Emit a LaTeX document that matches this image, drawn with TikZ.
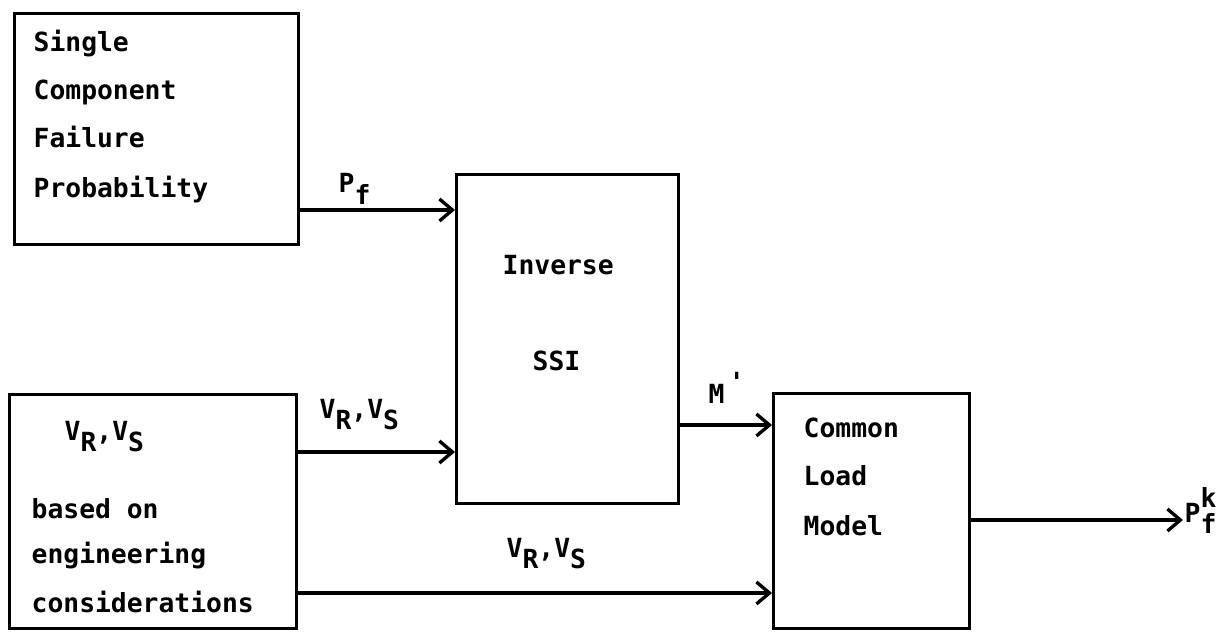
\documentclass[tikz,border=0pt]{standalone}
\usepackage{fontspec}
\setmainfont{DejaVu Sans Mono}
\usetikzlibrary{arrows.meta}
\newcommand{\lowr}[1]{\raisebox{-0.45em}{#1}}
\newcommand{\highr}[1]{\raisebox{0.55em}{#1}}

\begin{document}
\begin{tikzpicture}[x=0.02cm, y=-0.02cm, line width=1.9pt,
  box/.style={draw, rectangle, inner sep=0pt, anchor=north west},
  txt/.style={anchor=base west, inner sep=0pt, font=\fontsize{15}{18}\selectfont\bfseries},
  arr/.style={-{Straight Barb[length=2.6mm, width=4.4mm]}}]
\useasboundingbox (0,0) rectangle (1228,635);

\node[box, minimum width=5.68cm, minimum height=4.62cm] at (13,12) (single) {};
\node[box, minimum width=4.44cm, minimum height=6.58cm] at (455,173) (ssi) {};
\node[box, minimum width=5.74cm, minimum height=4.68cm] at (8,393) (eng) {};
\node[box, minimum width=3.92cm, minimum height=4.70cm] at (772,392) (load) {};

\node[txt] at (32,52) (s1) {Single};
\node[txt] at (32,100) (s2) {Component};
\node[txt] at (32,148) (s3) {Failure};
\node[txt] at (32,197) (s4) {Probability};

\node[txt] at (501,275) (i1) {Inverse};
\node[txt] at (531,370) (i2) {SSI};

\node[txt] at (63,440) (e1) {V\lowr{R},V\lowr{S}};
\node[txt] at (30,518) (e2) {based on};
\node[txt] at (30,563) (e3) {engineering};
\node[txt] at (30,612) (e4) {considerations};

\node[txt] at (802,437) (c1) {Common};
\node[txt] at (802,485) (c2) {Load};
\node[txt] at (802,535) (c3) {Model};

\node[txt] at (337,193) (pf) {P\lowr{f}};
\node[txt] at (318,418) (vv1) {V\lowr{R},V\lowr{S}};
\node[txt] at (707,403) (mm) {M\,\raisebox{0.45em}{\textquotesingle}};
\node[txt] at (505,557) (vv2) {V\lowr{R},V\lowr{S}};
\node[txt] at (1183,522) (pfk) {P\rlap{\highr{k}}\lowr{f}};

\draw (single.east |- 0,210) edge[arr] (ssi.west |- 0,210);
\draw (eng.east |- 0,452) edge[arr] (ssi.west |- 0,452);
\draw (ssi.east |- 0,425) edge[arr] (load.west |- 0,425);
\draw (eng.east |- 0,593) edge[arr] (load.west |- 0,593);
\draw (load.east |- 0,520) edge[arr] (pfk.west |- 0,520);
\end{tikzpicture}
\end{document}
